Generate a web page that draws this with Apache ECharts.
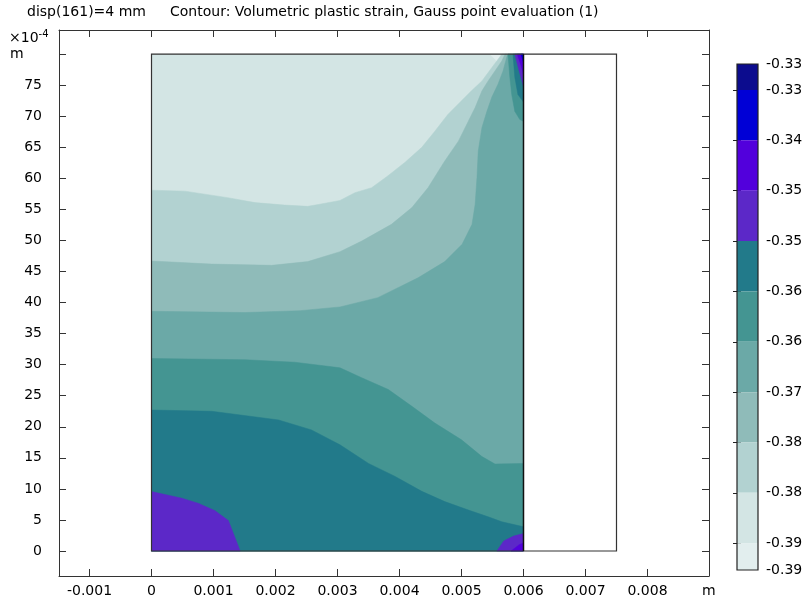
<!DOCTYPE html>
<html>
<head>
<meta charset="utf-8">
<script src="https://cdn.jsdelivr.net/npm/echarts@6/dist/echarts.min.js"></script>
<style>
  html, body { margin: 0; background: #fff; }
  #chart { width: 809px; height: 604px; }
</style>
</head>
<body>
<div id="chart"></div>
<script>
// colour bar: contour levels, top (max) to bottom (min)
const barMax = -0.3298
const barMin = -0.3921
const levels = [-0.333, -0.3392, -0.3454, -0.3516, -0.3578, -0.364, -0.3702, -0.3764, -0.3826, -0.3888]
const bandColors = ['#0c0c8e', '#0000d6', '#5200dc', '#5c28c8', '#227a8a', '#449592',
                    '#6ba9a7', '#8fbbb9', '#b2d2d1', '#d3e5e4', '#e2eeee']

// axis ticks
const xTicks = [-0.001, 0, 0.001, 0.002, 0.003, 0.004, 0.005, 0.006, 0.007, 0.008, 0.009]
const yTicks = [0, 5, 10, 15, 20, 25, 30, 35, 40, 45, 50, 55, 60, 65, 70, 75, 80]

// geometry: x in mm, y in 1e-4 m
const domainW = 6
const fullW = 7.5
const domainH = 80

// contour lines, x in mm, y in 1e-4 m
const contourA = [[0,58.1],[0.54,57.95],[1.23,56.9],[1.67,56.1],[2.15,55.7],[2.52,55.5],[2.69,55.8],[3.04,56.45],[3.28,57.7],[3.55,58.5],[3.81,60.4],[4.09,62.6],[4.36,65.0],[4.57,67.6],[4.78,70.3],[5.0,72.5],[5.16,74.1],[5.33,75.7],[5.49,77.85],[5.59,79.2],[5.65,80]]
const contourB = [[0,46.7],[0.97,46.2],[1.94,46.0],[2.52,46.6],[3.04,48.2],[3.39,49.9],[3.87,52.6],[4.2,55.3],[4.46,58.5],[4.73,62.8],[4.95,66.0],[5.11,69.2],[5.22,71.4],[5.33,74.1],[5.43,75.7],[5.54,77.3],[5.65,78.9],[5.7,80]]
const contourC = [[0,38.6],[1.51,38.4],[2.4,38.7],[3.04,39.3],[3.65,40.8],[4.3,44.0],[4.73,46.6],[5.01,49.4],[5.17,52.6],[5.22,55.8],[5.25,60.2],[5.27,64.4],[5.33,68.2],[5.41,70.8],[5.49,73.1],[5.59,75.2],[5.67,77.3],[5.73,79.5],[5.75,80]]
const contourD = [[0,31.0],[1.51,30.8],[2.31,30.4],[3.04,29.5],[3.39,27.9],[3.82,26.0],[4.2,23.3],[4.57,20.6],[5.0,17.9],[5.33,15.2],[5.54,14.0],[6,14.1]]
const contourE = [[0,22.7],[0.97,22.5],[2.05,21.1],[2.58,19.5],[3.04,17.1],[3.5,14.1],[3.93,12.0],[4.36,9.6],[4.73,7.95],[5.11,6.6],[5.43,5.5],[5.65,4.7],[6,3.9]]
const purpleLeft = [[0,9.56],[0.49,8.5],[0.75,7.7],[1.02,6.5],[1.24,4.9],[1.43,0]]
const purpleRight = [[5.57,0],[5.68,1.6],[5.84,2.4],[6,2.8]]
const violetRight = [[5.8,0],[5.93,1.0],[6,1.3]]
const stripTeal = [[5.75,80],[5.78,76.3],[5.81,73.5],[5.86,70.8],[5.94,69.5],[6,69.2]]
const stripDark = [[5.83,80],[5.86,76.3],[5.91,73.5],[6,72.3]]
const stripPurple = [[5.86,80],[5.93,77.3],[6,74.8]]
const stripViolet = [[5.9,80],[5.96,78.2],[6,76.8]]
const stripBlue = [[5.96,80],[6,78.6]]
const lightSpot = [[5.46,80],[5.65,80],[5.59,78.7]]

const toBottomRight = pts => pts.concat([[domainW, domainH], [domainW, 0], [0, 0]])
const toBottom = pts => pts.concat([[domainW, 0], [0, 0]])

// painted in order, lightest first; [band index, outline]
const regions = [
  [9, [[0, 0], [domainW, 0], [domainW, domainH], [0, domainH]]],
  [10, lightSpot],
  [8, toBottomRight(contourA)],
  [7, toBottomRight(contourB)],
  [6, toBottomRight(contourC)],
  [5, toBottom(contourD)],
  [5, stripTeal.concat([[domainW, domainH]])],
  [4, toBottom(contourE)],
  [4, stripDark.concat([[domainW, domainH]])],
  [3, purpleLeft.concat([[0, 0]])],
  [3, purpleRight.concat([[domainW, 0]])],
  [3, stripPurple.concat([[domainW, domainH]])],
  [2, violetRight.concat([[domainW, 0]])],
  [2, stripViolet.concat([[domainW, domainH]])],
  [1, stripBlue.concat([[domainW, domainH]])]
]

const font = 'DejaVu Sans'
const fontSize = 14
const myChart = echarts.init(document.getElementById('chart'))

const frameLine = { show: true, onZero: false, lineStyle: { color: '#333', width: 1 } }
const plainText = { fontFamily: font, fontSize: fontSize, fontWeight: 'normal', color: '#000' }

const option = {
  animation: false,
  title: [
    { text: 'disp(161)=4 mm', left: 27, top: 5, padding: 0, textStyle: plainText },
    { text: 'Contour: Volumetric plastic strain, Gauss point evaluation (1)', left: 170, top: 5, padding: 0,
      textStyle: plainText }
  ],
  grid: [
    { left: 59, top: 30, width: 650, height: 546 },
    { left: 737, top: 64, width: 21, height: 506 }
  ],
  xAxis: [
    {
      type: 'value', gridIndex: 0, position: 'bottom', min: -0.001492, max: 0.008992,
      axisLine: frameLine, splitLine: { show: false },
      axisTick: { inside: true, length: 7, customValues: xTicks, lineStyle: { color: '#333' } },
      axisLabel: {
        customValues: xTicks.slice(0, -1), margin: 8, color: '#000', fontFamily: font, fontSize: fontSize
      }
    },
    {
      type: 'value', gridIndex: 0, position: 'top', min: -0.001492, max: 0.008992,
      axisLine: frameLine, splitLine: { show: false }, axisLabel: { show: false },
      axisTick: { inside: true, length: 7, customValues: xTicks, lineStyle: { color: '#333' } }
    },
    { type: 'value', gridIndex: 1, min: 0, max: 1, show: false }
  ],
  yAxis: [
    {
      type: 'value', gridIndex: 0, position: 'left', min: -4.03, max: 83.9,
      axisLine: frameLine, splitLine: { show: false },
      axisTick: { inside: true, length: 7, customValues: yTicks, lineStyle: { color: '#333' } },
      axisLabel: {
        customValues: yTicks.slice(0, -1), margin: 17, color: '#000', fontFamily: font, fontSize: fontSize
      }
    },
    {
      type: 'value', gridIndex: 0, position: 'right', min: -4.03, max: 83.9,
      axisLine: frameLine, splitLine: { show: false }, axisLabel: { show: false },
      axisTick: { inside: true, length: 7, customValues: yTicks, lineStyle: { color: '#333' } }
    },
    {
      type: 'value', gridIndex: 1, position: 'right', min: barMin, max: barMax,
      axisLine: { show: false }, splitLine: { show: false },
      axisTick: { inside: true, length: 4, customValues: levels, lineStyle: { color: '#222' } },
      axisLabel: {
        customValues: [barMax].concat(levels, [barMin]), margin: 8, color: '#000',
        fontFamily: font, fontSize: fontSize, formatter: v => v.toFixed(2)
      }
    },
    {
      type: 'value', gridIndex: 1, position: 'left', min: barMin, max: barMax,
      axisLine: { show: false }, splitLine: { show: false }, axisLabel: { show: false },
      axisTick: { inside: true, length: 4, customValues: levels, lineStyle: { color: '#222' } }
    }
  ],
  graphic: [
    {
      type: 'text', left: 9, top: 29,
      style: {
        text: '{a|×10}{b|-4}',
        rich: {
          a: { fontFamily: font, fontSize: fontSize, fill: '#000' },
          b: { fontFamily: font, fontSize: 10, fill: '#000', verticalAlign: 'top', padding: [0, 0, 8, 0] }
        }
      }
    },
    { type: 'text', left: 10, top: 47, style: { text: 'm', font: '14px "DejaVu Sans"', fill: '#000' } },
    { type: 'text', left: 702, top: 584, style: { text: 'm', font: '14px "DejaVu Sans"', fill: '#000' } }
  ],
  series: [
    {
      // contour bands
      type: 'custom', xAxisIndex: 0, yAxisIndex: 0, silent: true,
      data: regions.map((r, i) => [i, r[0]]),
      renderItem: (params, api) => {
        const r = regions[params.dataIndex]
        return {
          type: 'polygon',
          shape: { points: r[1].map(p => api.coord([p[0] / 1000, p[1]])), smooth: 0 },
          style: { fill: bandColors[r[0]], stroke: bandColors[r[0]], lineWidth: 0.5 }
        }
      }
    },
    {
      // geometry outline
      type: 'custom', xAxisIndex: 0, yAxisIndex: 0, silent: true,
      data: [[0]],
      renderItem: (params, api) => {
        const c = p => api.coord([p[0] / 1000, p[1]])
        const a = c([domainW, 0])
        const b = c([domainW, domainH])
        return {
          type: 'group',
          children: [
            { type: 'polygon', shape: { points: [[0, 0], [fullW, 0], [fullW, domainH], [0, domainH]].map(c) },
              style: { fill: null, stroke: '#333', lineWidth: 1.2 } },
            { type: 'line', shape: { x1: a[0], y1: a[1], x2: b[0], y2: b[1] },
              style: { stroke: '#111', lineWidth: 1.5 } }
          ]
        }
      }
    },
    {
      // colour bar bands
      type: 'custom', xAxisIndex: 2, yAxisIndex: 2, silent: true,
      data: bandColors.map((c, i) => [i]),
      renderItem: (params, api) => {
        const i = params.dataIndex
        const top = i === 0 ? barMax : levels[i - 1]
        const bottom = i === levels.length ? barMin : levels[i]
        const p0 = api.coord([0, top])
        const p1 = api.coord([1, bottom])
        return {
          type: 'rect',
          shape: { x: p0[0], y: p0[1], width: p1[0] - p0[0], height: p1[1] - p0[1] },
          style: { fill: bandColors[i] }
        }
      }
    },
    {
      // colour bar frame
      type: 'custom', xAxisIndex: 2, yAxisIndex: 2, silent: true, z: 3,
      data: [[0]],
      renderItem: (params, api) => {
        const p0 = api.coord([0, barMax])
        const p1 = api.coord([1, barMin])
        return {
          type: 'rect',
          shape: { x: p0[0], y: p0[1], width: p1[0] - p0[0], height: p1[1] - p0[1] },
          style: { fill: null, stroke: '#222', lineWidth: 1.2 }
        }
      }
    }
  ]
}

myChart.setOption(option)
</script>
</body>
</html>
